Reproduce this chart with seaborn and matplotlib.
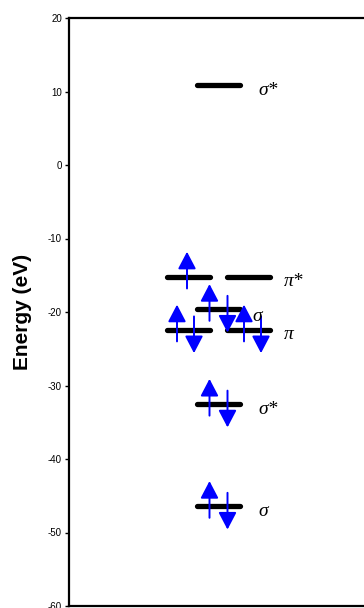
#MO ENERGY LEVEL DIAGRAM

import numpy as np
import pandas as pd
import matplotlib
matplotlib.use('Agg')
import matplotlib.pyplot as plt
import seaborn as sns

#1.Data: orbital energies (eV), slot in the diagram, electrons, labels
energies=[10.9,-15.2,-15.2,-19.6,-22.4,-22.4,-32.5,-46.4]
slots=['center','left','right','center','left','right','center','center']
electrons=[0,1,0,2,2,2,2,2]
orbital_labels=['σ*','','π*','σ','','π','σ*','σ']
yticks=[-60,-50,-40,-30,-20,-10,0,10,20]

df=pd.DataFrame({'energy':energies,'slot':slots,'electrons':electrons,'label':orbital_labels})

#layout (x in axis units, roughly pixels)
slot_x={'left':119.5,'center':149.5,'right':179.5}
half=21.5
arrow_dx={'left':(-11.5,5.5),'center':(-9,9),'right':(-4.5,12.5)}
label_gap={'left':14,'center':18,'right':14}

sns.set_theme(style='white')
plt.rcParams['font.family']=['Liberation Sans','DejaVu Sans']
plt.rcParams['axes.unicode_minus']=False
for k in ['text.color','axes.labelcolor','xtick.color','ytick.color']:
    plt.rcParams[k]='black'

fig=plt.figure(figsize=(3.64,6.08),dpi=100)
ax=fig.add_axes([69/364,2/608,1-69/364,588/608])

#2.Levels
for i,row in df.iterrows():
    xc=slot_x[row.slot]
    ax.plot([xc-half,xc+half],[row.energy,row.energy],color='black',lw=3.8,
            solid_capstyle='round',zorder=2)

#3.Electrons (arrows)
def arrow(x,y0,y1):
    ax.annotate('',xy=(x,y1),xytext=(x,y0),zorder=3,
                arrowprops=dict(arrowstyle='-|>,head_length=1.05,head_width=0.55',
                                color='blue',lw=1.4,mutation_scale=10,
                                shrinkA=0,shrinkB=0))

for i,row in df.iterrows():
    xc=slot_x[row.slot]
    if row.electrons==1:
        arrow(xc-1.5,row.energy-1.6,row.energy+3.4)
    elif row.electrons==2:
        up,dn=arrow_dx[row.slot]
        arrow(xc+up,row.energy-1.6,row.energy+3.4)
        arrow(xc+dn,row.energy+1.8,row.energy-3.2)

#4.Labels
for i,row in df.iterrows():
    if row.label=='':
        continue
    xc=slot_x[row.slot]
    gap=label_gap[row.slot]
    dy=-0.7
    if row.label=='σ' and row.energy>-30:
        gap=12
        dy=-1.0
    ax.text(xc+half+gap,row.energy+dy,row.label,fontsize=14,fontstyle='italic',
            family=['Liberation Serif','DejaVu Serif'],va='center',ha='left')

#5.Axes styling
ax.set_xlim(0,295)
ax.set_ylim(-60,20)
ax.set_yticks(yticks)
ax.set_xticks([])
ax.tick_params(axis='y',left=True,direction='out',length=3,width=1,pad=2,labelsize=7)
ax.set_ylabel('Energy (eV)',fontsize=15,fontweight='bold')
ax.yaxis.set_label_coords(-0.125,0.5)
for s in ['left','top','bottom']:
    ax.spines[s].set_linewidth(1.6)
    ax.spines[s].set_color('black')
ax.spines['right'].set_visible(False)

plt.savefig('out.png',dpi=100)
